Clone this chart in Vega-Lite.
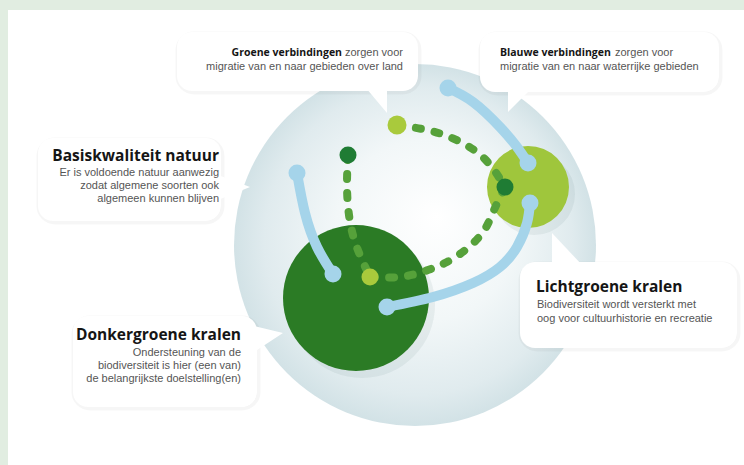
{
  "$schema": "https://vega.github.io/schema/vega-lite/v6.json",
  "width": 744,
  "height": 465,
  "padding": 0,
  "autosize": {"type": "fit", "contains": "padding"},
  "background": "white",
  "config": {"view": {"stroke": null}, "axis": {"disable": true}},
  "datasets": {
    "bands": [
      {"x": 0, "x2": 744, "y": 0, "y2": 10},
      {"x": 0, "x2": 8, "y": 0, "y2": 465}
    ],
    "circles": [
      {"name": "basis", "x": 415, "y": 245, "d": 362},
      {"name": "donker", "x": 356, "y": 298, "d": 146},
      {"name": "licht", "x": 528, "y": 187, "d": 82}
    ],
    "boxes": [
      {"b": "groen", "x": 177, "x2": 418, "y": 32, "y2": 91},
      {"b": "blauw", "x": 480, "x2": 719, "y": 32, "y2": 92},
      {"b": "basis", "x": 38, "x2": 221, "y": 138, "y2": 221},
      {"b": "licht", "x": 520, "x2": 737, "y": 262, "y2": 348},
      {"b": "donker", "x": 73, "x2": 257, "y": 316, "y2": 407}
    ],
    "pointers": [
      {"b": "groen", "x": 366, "y": 88, "y2": 88},
      {"b": "groen", "x": 387, "y": 88, "y2": 113},
      {"b": "blauw", "x": 508, "y": 88, "y2": 112},
      {"b": "blauw", "x": 532, "y": 88, "y2": 88},
      {"b": "basis", "x": 218, "y": 175, "y2": 200},
      {"b": "basis", "x": 250, "y": 187, "y2": 187},
      {"b": "licht", "x": 552, "y": 233, "y2": 266},
      {"b": "licht", "x": 583, "y": 266, "y2": 266},
      {"b": "donker", "x": 254, "y": 326, "y2": 352},
      {"b": "donker", "x": 283, "y": 333, "y2": 333}
    ],
    "blue": [
      {"id": "a", "i": 0, "x": 297, "y": 173},
      {"id": "a", "i": 1, "x": 305, "y": 213},
      {"id": "a", "i": 2, "x": 317, "y": 247},
      {"id": "a", "i": 3, "x": 333, "y": 274},
      {"id": "b", "i": 0, "x": 448, "y": 88},
      {"id": "b", "i": 1, "x": 473, "y": 102},
      {"id": "b", "i": 2, "x": 500, "y": 127},
      {"id": "b", "i": 3, "x": 517, "y": 147},
      {"id": "b", "i": 4, "x": 528, "y": 163},
      {"id": "c", "i": 0, "x": 387, "y": 307},
      {"id": "c", "i": 1, "x": 433, "y": 297},
      {"id": "c", "i": 2, "x": 473, "y": 283},
      {"id": "c", "i": 3, "x": 500, "y": 267},
      {"id": "c", "i": 4, "x": 517, "y": 247},
      {"id": "c", "i": 5, "x": 527, "y": 223},
      {"id": "c", "i": 6, "x": 530, "y": 203}
    ],
    "green": [
      {"id": "a", "i": 0, "x": 348, "y": 155},
      {"id": "a", "i": 1, "x": 347, "y": 185},
      {"id": "a", "i": 2, "x": 349, "y": 215},
      {"id": "a", "i": 3, "x": 356, "y": 245},
      {"id": "a", "i": 4, "x": 370, "y": 277},
      {"id": "b", "i": 0, "x": 370, "y": 277},
      {"id": "b", "i": 1, "x": 400, "y": 277},
      {"id": "b", "i": 2, "x": 425, "y": 271},
      {"id": "b", "i": 3, "x": 447, "y": 262},
      {"id": "b", "i": 4, "x": 469, "y": 247},
      {"id": "b", "i": 5, "x": 485, "y": 229},
      {"id": "b", "i": 6, "x": 494, "y": 210},
      {"id": "b", "i": 7, "x": 505, "y": 187},
      {"id": "c", "i": 0, "x": 397, "y": 125},
      {"id": "c", "i": 1, "x": 427, "y": 130},
      {"id": "c", "i": 2, "x": 452, "y": 138},
      {"id": "c", "i": 3, "x": 474, "y": 150},
      {"id": "c", "i": 4, "x": 491, "y": 166},
      {"id": "c", "i": 5, "x": 505, "y": 187}
    ],
    "dots": [
      {"kind": "blauw", "x": 297, "y": 173, "d": 17},
      {"kind": "blauw", "x": 333, "y": 274, "d": 17},
      {"kind": "blauw", "x": 448, "y": 88, "d": 17},
      {"kind": "blauw", "x": 528, "y": 163, "d": 17},
      {"kind": "blauw", "x": 387, "y": 307, "d": 17},
      {"kind": "blauw", "x": 530, "y": 203, "d": 17},
      {"kind": "donker", "x": 348, "y": 155, "d": 17},
      {"kind": "donker", "x": 505, "y": 187, "d": 17},
      {"kind": "licht", "x": 370, "y": 277, "d": 17},
      {"kind": "licht", "x": 397, "y": 125, "d": 19}
    ],
    "labels": [
      {"t": "Groene verbindingen", "x": 342, "y": 53, "role": "lead", "side": "r"},
      {"t": "zorgen voor", "x": 403, "y": 53, "role": "body", "side": "r"},
      {"t": "migratie van en naar gebieden over land", "x": 403, "y": 67, "role": "body", "side": "r"},
      {"t": "Blauwe verbindingen", "x": 500, "y": 53, "role": "lead", "side": "l"},
      {"t": "zorgen voor", "x": 615, "y": 53, "role": "body", "side": "l"},
      {"t": "migratie van en naar waterrijke gebieden", "x": 500, "y": 67, "role": "body", "side": "l"},
      {"t": "Basiskwaliteit natuur", "x": 219, "y": 156, "role": "head", "side": "r"},
      {"t": "Er is voldoende natuur aanwezig", "x": 219, "y": 173, "role": "body", "side": "r"},
      {"t": "zodat algemene soorten ook", "x": 219, "y": 186, "role": "body", "side": "r"},
      {"t": "algemeen kunnen blijven", "x": 219, "y": 199, "role": "body", "side": "r"},
      {"t": "Lichtgroene kralen", "x": 536, "y": 287, "role": "head", "side": "l"},
      {"t": "Biodiversiteit wordt versterkt met", "x": 537, "y": 305, "role": "body", "side": "l"},
      {"t": "oog voor cultuurhistorie en recreatie", "x": 537, "y": 319, "role": "body", "side": "l"},
      {"t": "Donkergroene kralen", "x": 241, "y": 335, "role": "head", "side": "r"},
      {"t": "Ondersteuning van de", "x": 241, "y": 353, "role": "body", "side": "r"},
      {"t": "biodiversiteit is hier (een van)", "x": 241, "y": 366, "role": "body", "side": "r"},
      {"t": "de belangrijkste doelstelling(en)", "x": 241, "y": 379, "role": "body", "side": "r"}
    ]
  },
  "encoding": {
    "x": {"field": "x", "type": "quantitative", "scale": {"domain": [0, 744], "nice": false, "zero": false}, "axis": null},
    "y": {"field": "y", "type": "quantitative", "scale": {"domain": [0, 465], "nice": false, "zero": false, "reverse": true}, "axis": null}
  },
  "layer": [
    {
      "data": {"name": "bands"},
      "mark": {"type": "rect", "fill": "#e1ede1"},
      "encoding": {"x2": {"field": "x2"}, "y2": {"field": "y2"}}
    },
    {
      "data": {"name": "circles"},
      "transform": [{"filter": "datum.name == 'basis'"}],
      "mark": {
        "type": "point", "shape": "circle", "filled": true, "opacity": 1, "strokeWidth": 0,
        "fill": {
          "gradient": "radial", "x1": 0.56, "y1": 0.42, "r1": 0, "x2": 0.5, "y2": 0.5, "r2": 0.5,
          "stops": [
            {"offset": 0, "color": "#ffffff"},
            {"offset": 0.5, "color": "#f2f7f8"},
            {"offset": 0.85, "color": "#e0ebee"},
            {"offset": 1, "color": "#d2e2e6"}
          ]
        }
      },
      "encoding": {
        "size": {"field": "d", "type": "quantitative", "scale": {"type": "pow", "exponent": 2, "domain": [0, 400], "range": [0, 160000]}, "legend": null}
      }
    },
    {
      "data": {"name": "circles"},
      "transform": [{"filter": "datum.name != 'basis'"}],
      "mark": {"type": "point", "shape": "circle", "filled": true, "fill": "#2f4f4f", "opacity": 0.07, "strokeWidth": 0, "xOffset": 6, "yOffset": 7},
      "encoding": {
        "size": {"field": "d", "type": "quantitative", "scale": {"type": "pow", "exponent": 2, "domain": [0, 400], "range": [0, 160000]}, "legend": null}
      }
    },
    {
      "data": {"name": "circles"},
      "transform": [{"filter": "datum.name == 'donker'"}],
      "mark": {"type": "point", "shape": "circle", "filled": true, "fill": "#2b7b25", "opacity": 1, "strokeWidth": 0},
      "encoding": {
        "size": {"field": "d", "type": "quantitative", "scale": {"type": "pow", "exponent": 2, "domain": [0, 400], "range": [0, 160000]}, "legend": null}
      }
    },
    {
      "data": {"name": "circles"},
      "transform": [{"filter": "datum.name == 'licht'"}],
      "mark": {"type": "point", "shape": "circle", "filled": true, "fill": "#9fc63c", "opacity": 1, "strokeWidth": 0},
      "encoding": {
        "size": {"field": "d", "type": "quantitative", "scale": {"type": "pow", "exponent": 2, "domain": [0, 400], "range": [0, 160000]}, "legend": null}
      }
    },
    {
      "data": {"name": "boxes"},
      "mark": {"type": "rect", "fill": "#000000", "fillOpacity": 0.06, "stroke": "#000000", "strokeOpacity": 0.035, "strokeWidth": 7, "cornerRadius": 15, "xOffset": 2, "yOffset": 3},
      "encoding": {"x2": {"field": "x2"}, "y2": {"field": "y2"}}
    },
    {
      "data": {"name": "pointers"},
      "mark": {"type": "area", "fill": "#ffffff", "opacity": 1},
      "encoding": {"y2": {"field": "y2"}, "detail": {"field": "b"}}
    },
    {
      "data": {"name": "boxes"},
      "mark": {"type": "rect", "fill": "#ffffff", "cornerRadius": 15},
      "encoding": {"x2": {"field": "x2"}, "y2": {"field": "y2"}}
    },
    {
      "data": {"name": "blue"},
      "mark": {"type": "line", "stroke": "#a5d4ea", "strokeWidth": 10, "strokeCap": "round", "interpolate": "natural"},
      "encoding": {"detail": {"field": "id"}, "order": {"field": "i", "type": "quantitative"}}
    },
    {
      "data": {"name": "green"},
      "mark": {"type": "line", "stroke": "#56a13a", "strokeWidth": 8, "strokeCap": "round", "strokeDash": [5, 14], "interpolate": "natural"},
      "encoding": {"detail": {"field": "id"}, "order": {"field": "i", "type": "quantitative"}}
    },
    {
      "data": {"name": "dots"},
      "mark": {"type": "point", "shape": "circle", "filled": true, "opacity": 1, "strokeWidth": 0},
      "encoding": {
        "size": {"field": "d", "type": "quantitative", "scale": {"type": "pow", "exponent": 2, "domain": [0, 400], "range": [0, 160000]}, "legend": null},
        "color": {"field": "kind", "type": "nominal", "scale": {"domain": ["blauw", "donker", "licht"], "range": ["#a5d4ea", "#1f7c34", "#a9ca3c"]}, "legend": null}
      }
    },
    {
      "data": {"name": "labels"},
      "transform": [{"filter": "datum.role == 'head' && datum.side == 'r'"}],
      "mark": {"type": "text", "align": "right", "baseline": "middle", "font": "Open Sans", "fontWeight": "bold", "fontSize": 15.5, "fill": "#151515"},
      "encoding": {"text": {"field": "t"}}
    },
    {
      "data": {"name": "labels"},
      "transform": [{"filter": "datum.role == 'head' && datum.side == 'l'"}],
      "mark": {"type": "text", "align": "left", "baseline": "middle", "font": "Open Sans", "fontWeight": "bold", "fontSize": 15.5, "fill": "#151515"},
      "encoding": {"text": {"field": "t"}}
    },
    {
      "data": {"name": "labels"},
      "transform": [{"filter": "datum.role == 'lead' && datum.side == 'r'"}],
      "mark": {"type": "text", "align": "right", "baseline": "middle", "font": "Open Sans", "fontWeight": "bold", "fontSize": 10.5, "fill": "#151515"},
      "encoding": {"text": {"field": "t"}}
    },
    {
      "data": {"name": "labels"},
      "transform": [{"filter": "datum.role == 'lead' && datum.side == 'l'"}],
      "mark": {"type": "text", "align": "left", "baseline": "middle", "font": "Open Sans", "fontWeight": "bold", "fontSize": 10.5, "fill": "#151515"},
      "encoding": {"text": {"field": "t"}}
    },
    {
      "data": {"name": "labels"},
      "transform": [{"filter": "datum.role == 'body' && datum.side == 'r'"}],
      "mark": {"type": "text", "align": "right", "baseline": "middle", "font": "Liberation Sans", "fontSize": 11, "fill": "#555555"},
      "encoding": {"text": {"field": "t"}}
    },
    {
      "data": {"name": "labels"},
      "transform": [{"filter": "datum.role == 'body' && datum.side == 'l'"}],
      "mark": {"type": "text", "align": "left", "baseline": "middle", "font": "Liberation Sans", "fontSize": 11, "fill": "#555555"},
      "encoding": {"text": {"field": "t"}}
    }
  ]
}
